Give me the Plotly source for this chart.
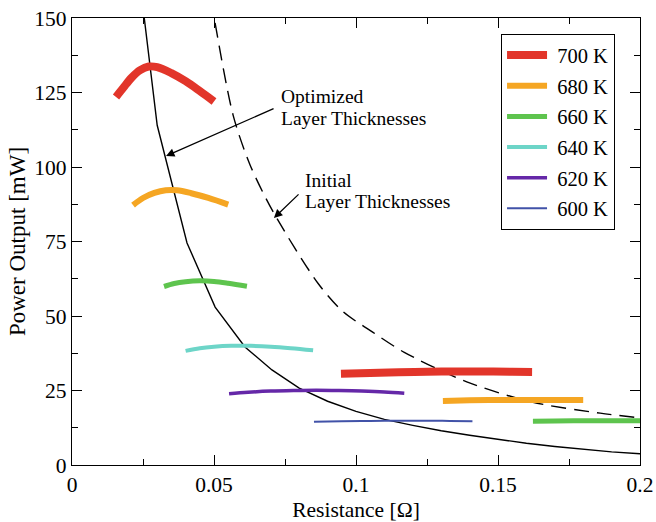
import plotly.graph_objects as go

# ---------------- data ----------------
temps = ["700 K", "680 K", "660 K", "640 K", "620 K", "600 K"]
colors = ["#e2352a", "#f5a623", "#5ec44e", "#6dd5c8", "#6528a8", "#4152a8"]
widths = [8, 6, 5, 4, 3.5, 2]

# optimized-thickness branch (upper arcs)
x700a = [0.0155, 0.018, 0.021, 0.024, 0.027, 0.030, 0.035, 0.040, 0.045, 0.050]
y700a = [123.5, 126.5, 130.0, 132.5, 133.7, 133.5, 131.5, 128.8, 125.5, 122.0]
x680a = [0.0215, 0.025, 0.029, 0.033, 0.037, 0.042, 0.048, 0.055]
y680a = [87.2, 89.6, 91.3, 92.2, 92.2, 91.2, 89.6, 87.4]
x660a = [0.0324, 0.036, 0.040, 0.045, 0.050, 0.055, 0.0616]
y660a = [59.9, 60.9, 61.5, 61.8, 61.6, 61.0, 60.0]
x640 = [0.040, 0.045, 0.050, 0.056, 0.063, 0.070, 0.077, 0.0849]
y640 = [38.3, 39.2, 39.7, 40.0, 40.0, 39.7, 39.2, 38.5]
x620 = [0.0553, 0.062, 0.070, 0.078, 0.086, 0.094, 0.102, 0.110, 0.117]
y620 = [23.9, 24.4, 24.8, 25.0, 25.1, 25.0, 24.8, 24.5, 24.1]
x600 = [0.0852, 0.095, 0.105, 0.115, 0.125, 0.133, 0.141]
y600 = [14.5, 14.7, 14.8, 14.85, 14.85, 14.8, 14.7]

# initial-thickness branch (lower flat arcs)
x700b = [0.0947, 0.105, 0.115, 0.125, 0.135, 0.145, 0.155, 0.162]
y700b = [30.6, 30.9, 31.1, 31.3, 31.35, 31.35, 31.3, 31.25]
x680b = [0.1306, 0.140, 0.150, 0.160, 0.170, 0.180]
y680b = [21.5, 21.7, 21.8, 21.85, 21.85, 21.8]
x660b = [0.1623, 0.170, 0.180, 0.190, 0.200]
y660b = [14.7, 14.8, 14.85, 14.85, 14.85]

# load lines
x_opt = [0.020, 0.030, 0.0405, 0.0504, 0.0609, 0.0704, 0.080, 0.090, 0.100,
         0.110, 0.120, 0.130, 0.140, 0.150, 0.160, 0.170, 0.180, 0.190, 0.200]
y_opt = [193, 114, 74.5, 53, 39.6, 31.9, 25.8, 21.4, 18.0,
         15.3, 13.3, 11.5, 10.0, 8.6, 7.3, 6.2, 5.2, 4.4, 3.8]
x_init = [0.049, 0.0567, 0.0627, 0.0708, 0.0866, 0.0954, 0.106, 0.117,
          0.139, 0.162, 0.186, 0.200]
y_init = [156, 117.5, 100.7, 85, 61, 51.5, 44.5, 37.8, 27.9, 21.1, 17.4, 15.8]

x_ticks = [0, 0.05, 0.1, 0.15, 0.2]
x_ticklabels = ["0", "0.05", "0.1", "0.15", "0.2"]
y_ticks = [0, 25, 50, 75, 100, 125, 150]
y_ticklabels = ["0", "25", "50", "75", "100", "125", "150"]

FONT = "Liberation Serif"

fig = go.Figure()

fig.add_trace(go.Scatter(x=x_opt, y=y_opt, mode="lines",
                         line=dict(color="black", width=1.4),
                         showlegend=False, hoverinfo="skip"))
fig.add_trace(go.Scatter(x=x_init, y=y_init, mode="lines",
                         line=dict(color="black", width=1.4, dash="15px,8px",
                                   shape="spline", smoothing=0.8),
                         showlegend=False, hoverinfo="skip"))

upper = [(x700a, y700a), (x680a, y680a), (x660a, y660a),
         (x640, y640), (x620, y620), (x600, y600)]
lower = {0: (x700b, y700b), 1: (x680b, y680b), 2: (x660b, y660b)}

for i, (xs, ys) in enumerate(upper):
    fig.add_trace(go.Scatter(x=xs, y=ys, mode="lines", name="\u00a0" + temps[i],
                             legendgroup=temps[i], showlegend=True,
                             line=dict(color=colors[i], width=widths[i],
                                       shape="spline", smoothing=1.0)))
    if i in lower:
        xb, yb = lower[i]
        fig.add_trace(go.Scatter(x=xb, y=yb, mode="lines", name=temps[i],
                                 legendgroup=temps[i], showlegend=False,
                                 line=dict(color=colors[i], width=widths[i],
                                           shape="spline", smoothing=1.0)))

# annotations
afont = dict(family=FONT, size=19.5, color="black")
fig.add_annotation(x=0.0331, y=103.7, ax=0.0715, ay=119.8, axref="x", ayref="y",
                   xref="x", yref="y", text="", showarrow=True,
                   arrowhead=2, arrowsize=1.3, arrowwidth=1.3, arrowcolor="black")
fig.add_annotation(x=0.0711, y=82.9, ax=0.0803, ay=91.3, axref="x", ayref="y",
                   xref="x", yref="y", text="", showarrow=True,
                   arrowhead=2, arrowsize=1.3, arrowwidth=1.3, arrowcolor="black")
for txt, xx, yy in [("Optimized", 0.0729, 123.5), ("Layer Thicknesses", 0.0729, 116.3),
                    ("Initial", 0.0813, 95.6), ("Layer Thicknesses", 0.0813, 88.5)]:
    fig.add_annotation(x=xx, y=yy, xref="x", yref="y", text=txt, showarrow=False,
                       xanchor="left", yanchor="middle", font=afont)

axis_common = dict(showline=True, linecolor="black", linewidth=1.3, mirror="allticks",
                   ticks="inside", ticklen=10, tickwidth=1.2, tickcolor="black",
                   showgrid=False, zeroline=False, automargin=False,
                   tickfont=dict(family=FONT, size=21.5, color="black"))

fig.update_xaxes(range=[0, 0.2], tickvals=x_ticks, ticktext=x_ticklabels,
                 minor=dict(ticks="inside", ticklen=6, dtick=0.025, tick0=0,
                            tickcolor="black", tickwidth=1.2, showgrid=False),
                 title=dict(text="Resistance [Ω]", font=dict(family=FONT, size=21.5, color="black"),
                            standoff=8),
                 **axis_common)
fig.update_yaxes(range=[0, 150], tickvals=y_ticks, ticktext=y_ticklabels,
                 minor=dict(ticks="inside", ticklen=6, dtick=12.5, tick0=0,
                            tickcolor="black", tickwidth=1.2, showgrid=False),
                 title=dict(text="Power Output [mW]", font=dict(family=FONT, size=23, color="black"),
                            standoff=2),
                 **axis_common)

fig.update_layout(
    width=656, height=522,
    margin=dict(l=72, r=16, t=18, b=57, pad=0, autoexpand=False),
    paper_bgcolor="white", plot_bgcolor="white",
    font=dict(family=FONT, color="black"),
    legend=dict(x=0.755, y=0.964, xanchor="left", yanchor="top",
                bgcolor="white", bordercolor="black", borderwidth=1.2,
                font=dict(family=FONT, size=20.5, color="black"),
                tracegroupgap=1, itemwidth=40),
    showlegend=True,
)

fig.write_html("out.html", config={"displayModeBar": False},
               post_script="document.body.style.margin='0px';document.body.style.padding='0px';")
